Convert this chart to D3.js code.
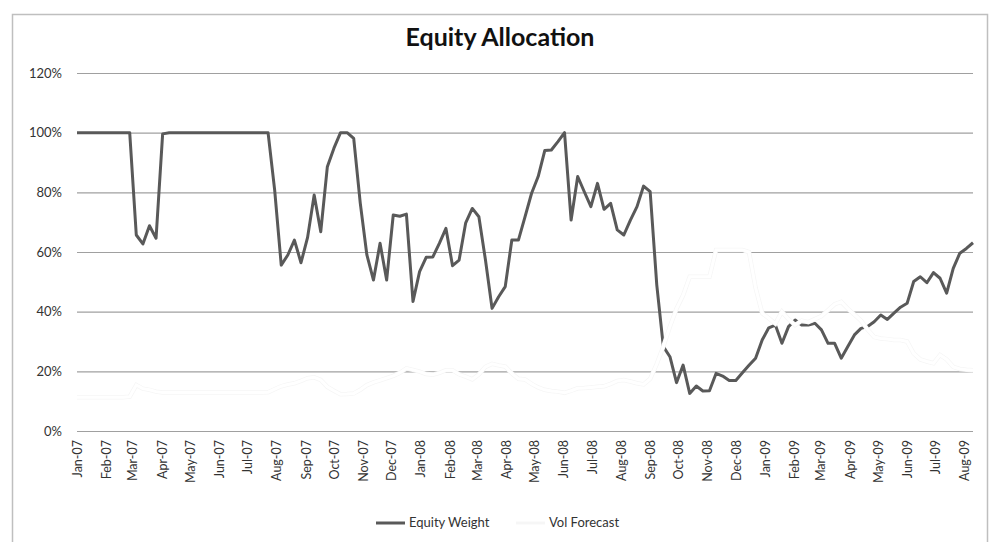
<!DOCTYPE html>
<html>
<head>
<meta charset="utf-8">
<script src="https://cdn.jsdelivr.net/npm/d3@7"></script>
<style>
  body { margin: 0; background: #fff; }
  svg { display: block; font-family: Lato, "Open Sans", sans-serif; }
</style>
</head>
<body>
<svg id="chart" width="993" height="542"></svg>
<script>
// weekly values (percent)
const equityWeight = [
  100, 100, 100, 100, 100, 100, 100, 100, 100, 65.7,
  62.7, 68.8, 64.6, 99.6, 100, 100, 100, 100, 100, 100,
  100, 100, 100, 100, 100, 100, 100, 100, 100, 100,
  80.8, 55.6, 59, 64, 56.4, 64.9, 79.1, 66.8, 88.6, 94.8,
  100, 100, 98.1, 76.3, 59, 50.6, 62.9, 50.6, 72.4, 72,
  72.7, 43.4, 53.4, 58.2, 58.3, 62.9, 67.9, 55.4, 57.3, 69.8,
  74.6, 71.8, 57.3, 41.1, 45, 48.4, 64, 64, 71.8, 79.7,
  85.3, 94, 94.2, 97, 100, 70.7, 85.3, 80.2, 75.2, 83,
  74.3, 76.3, 67.4, 65.7, 70.7, 75.2, 82.1, 80.2, 49, 28.3,
  24.9, 16.2, 22.1, 12.6, 15.1, 13.4, 13.5, 19.3, 18.4, 16.9,
  16.9, 19.5, 22, 24.4, 30.5, 34.6, 35.5, 29.4, 35, 37.2,
  35.5, 35.5, 36.1, 33.9, 29.4, 29.4, 24.4, 28.3, 32.2, 34.4,
  35, 36.6, 38.9, 37.4, 39.5, 41.5, 42.8, 50.1, 51.7, 49.7,
  53.1, 51.2, 46.2, 54.5, 59.6, 61.2, 63.1
];
const volForecast = [
  11.3, 11.3, 11.3, 11.3, 11.3, 11.3, 11.3, 11.3, 11.5, 15.4,
  14.2, 13.8, 13.2, 12.9, 12.9, 12.9, 12.9, 12.9, 12.9, 12.9,
  12.9, 12.9, 12.9, 12.9, 12.9, 12.9, 12.9, 12.9, 12.9, 13,
  14, 15, 15.6, 16, 16.8, 17.7, 18, 17.1, 14.8, 13.5,
  12.3, 12.4, 12.6, 13.8, 15.4, 16.3, 17, 17.7, 18.5, 19.5,
  21, 20.5, 19.9, 19.1, 18.9, 19.5, 20.4, 20.4, 19, 18.2,
  17.3, 19, 21.5, 22.5, 22, 21.6, 19.3, 17.5, 17.3, 15.8,
  14.6, 13.8, 13.4, 13.2, 12.8, 13.5, 14.3, 14.4, 14.6, 14.8,
  15, 15.8, 16.8, 17.1, 16.6, 16, 15.6, 17.5, 22.5, 28.3,
  35, 41, 45.5, 51.7, 51.7, 51.7, 51.7, 60.7, 60.7, 60.7,
  60.7, 60.7, 60, 48, 39.5, 37.8, 36, 40, 37.5, 35.5,
  37, 36.5, 37.5, 38.5, 40.5, 42.5, 43.3, 41, 39, 37,
  34, 31.5, 31, 30.8, 30.5, 30.5, 30, 26, 24, 23.3,
  22.7, 25.5, 24, 21.5, 20.8, 20.5, 20.4
];
const yTicks = [0, 20, 40, 60, 80, 100, 120];
const seriesNames = ["Equity Weight", "Vol Forecast"];
const seriesColors = ["#595959", "#ffffff"];

// one Monday per value, Jan 2007 to Aug 2009
const weeks = d3.timeMonday.range(new Date(2007, 0, 1), new Date(2009, 7, 11));

const svg = d3.select("#chart");
const plotLeft = 77, plotRight = 973, plotTop = 73, plotBottom = 431;

const x = d3.scaleTime()
  .domain([weeks[0], weeks[weeks.length - 1]])
  .range([plotLeft, plotRight]);
const y = d3.scaleLinear().domain([0, 120]).range([plotBottom, plotTop]);

// chart frame
svg.append("rect")
  .attr("x", 12.5).attr("y", 14.5)
  .attr("width", 975).attr("height", 600)
  .attr("fill", "#fff")
  .attr("stroke", "#bfbfbf")
  .attr("stroke-width", 1.5);

svg.append("text")
  .attr("x", 500).attr("y", 46)
  .attr("text-anchor", "middle")
  .attr("font-size", 25).attr("font-weight", "bold")
  .attr("fill", "#111")
  .text("Equity Allocation");

// gridlines + y labels
const yAxis = svg.append("g")
  .attr("transform", `translate(${plotLeft},0)`)
  .call(d3.axisLeft(y).tickValues(yTicks).tickSize(-(plotRight - plotLeft))
    .tickFormat(d => d + "%"));
yAxis.select(".domain").remove();
yAxis.selectAll("line").attr("stroke", "#a0a0a0").attr("stroke-width", 1.2);
yAxis.selectAll("text")
  .attr("x", -15)
  .attr("font-size", 13).attr("font-family", "Lato, sans-serif")
  .attr("fill", "#333");

// month labels, rotated
const xAxis = svg.append("g")
  .attr("transform", `translate(0,${plotBottom})`)
  .call(d3.axisBottom(x).ticks(d3.timeMonth.every(1)).tickSize(0)
    .tickFormat(d3.timeFormat("%b-%y")));
xAxis.select(".domain").remove();
xAxis.selectAll("text")
  .attr("transform", "rotate(-90)")
  .attr("x", -9).attr("y", 0).attr("dy", "0.35em")
  .style("text-anchor", "end")
  .attr("font-size", 12.5).attr("font-family", "Lato, sans-serif")
  .attr("fill", "#333");

const line = d3.line()
  .x((d, i) => x(weeks[i]))
  .y(d => y(d));

svg.append("path")
  .datum(equityWeight)
  .attr("fill", "none")
  .attr("stroke", seriesColors[0])
  .attr("stroke-width", 3)
  .attr("stroke-linejoin", "round")
  .attr("d", line);

// white vol line, very faint halo under it
svg.append("path")
  .datum(volForecast)
  .attr("fill", "none")
  .attr("stroke", "#f6f6f6")
  .attr("stroke-width", 4.5)
  .attr("d", line);
svg.append("path")
  .datum(volForecast)
  .attr("fill", "none")
  .attr("stroke", seriesColors[1])
  .attr("stroke-width", 3)
  .attr("d", line);

// legend
const legend = svg.append("g").attr("font-size", 13).attr("fill", "#333");
const legendX = [376, 516];
seriesNames.forEach((name, i) => {
  legend.append("line")
    .attr("x1", legendX[i]).attr("x2", legendX[i] + 29)
    .attr("y1", 523).attr("y2", 523)
    .attr("stroke", i === 0 ? seriesColors[0] : "#f6f6f6")
    .attr("stroke-width", 3);
  legend.append("text")
    .attr("x", legendX[i] + 33).attr("y", 527)
    .text(name);
});
</script>
</body>
</html>
